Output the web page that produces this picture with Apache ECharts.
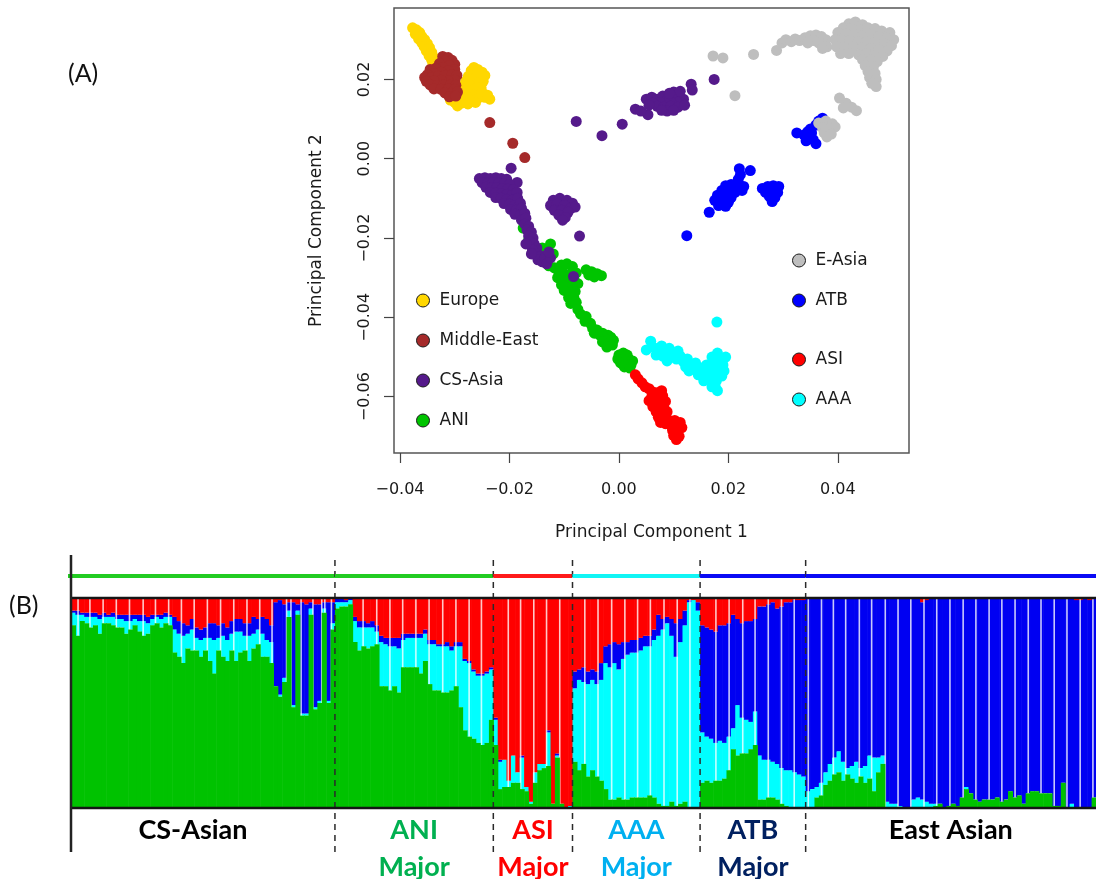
<!DOCTYPE html>
<html>
<head>
<meta charset="utf-8">
<script src="https://cdn.jsdelivr.net/npm/echarts@6/dist/echarts.min.js"></script>
<style>
html, body { margin: 0; padding: 0; background: #fff; }
#main { width: 1096px; height: 879px; }
</style>
</head>
<body>
<div id="main"></div>
<script>
// ---------- (A) principal components, one [PC1, PC2] pair per individual ----------
const europe = [
  [-0.0377,0.0330],[-0.0370,0.0325],[-0.0364,0.0318],[-0.0372,0.0314],[-0.0360,0.0308],[-0.0366,0.0302],
  [-0.0355,0.0300],[-0.0360,0.0292],[-0.0350,0.0290],[-0.0356,0.0283],[-0.0346,0.0280],[-0.0352,0.0272],
  [-0.0342,0.0268],[-0.0347,0.0260],[-0.0338,0.0255],[-0.0342,0.0248],[-0.0335,0.0240],[-0.0340,0.0236],
  [-0.0330,0.0230],[-0.0336,0.0222],[-0.0328,0.0218],
  [-0.0265,0.0230],[-0.0258,0.0225],[-0.0270,0.0222],[-0.0250,0.0218],[-0.0262,0.0212],[-0.0275,0.0208],
  [-0.0245,0.0210],[-0.0255,0.0202],[-0.0268,0.0198],[-0.0280,0.0195],[-0.0248,0.0195],[-0.0260,0.0188],
  [-0.0272,0.0185],[-0.0285,0.0182],[-0.0252,0.0180],[-0.0265,0.0175],[-0.0278,0.0172],[-0.0292,0.0170],
  [-0.0300,0.0165],[-0.0288,0.0160],[-0.0275,0.0158],[-0.0262,0.0162],[-0.0250,0.0168],[-0.0305,0.0155],
  [-0.0295,0.0150],[-0.0282,0.0148],[-0.0270,0.0150],[-0.0258,0.0152],[-0.0245,0.0155],[-0.0300,0.0142],
  [-0.0288,0.0140],[-0.0276,0.0138],[-0.0262,0.0142],[-0.0236,0.0150],[-0.0240,0.0160],[-0.0308,0.0148],
  [-0.0295,0.0133]
];
const middleEast = [
  [-0.0322,0.0258],[-0.0312,0.0255],[-0.0305,0.0248],[-0.0318,0.0246],[-0.0328,0.0240],[-0.0300,0.0238],
  [-0.0310,0.0235],[-0.0322,0.0230],[-0.0335,0.0228],[-0.0345,0.0225],[-0.0300,0.0225],[-0.0312,0.0222],
  [-0.0325,0.0218],[-0.0338,0.0215],[-0.0350,0.0212],[-0.0355,0.0205],[-0.0342,0.0205],[-0.0330,0.0208],
  [-0.0318,0.0210],[-0.0305,0.0212],[-0.0296,0.0210],[-0.0300,0.0198],[-0.0312,0.0196],[-0.0325,0.0198],
  [-0.0338,0.0196],[-0.0352,0.0195],[-0.0345,0.0186],[-0.0332,0.0185],[-0.0320,0.0186],[-0.0308,0.0186],
  [-0.0298,0.0185],[-0.0338,0.0176],[-0.0325,0.0175],[-0.0312,0.0176],[-0.0300,0.0175],[-0.0318,0.0166],
  [-0.0305,0.0165],[-0.0295,0.0168],[-0.0310,0.0156],[-0.0298,0.0158],
  [-0.0236,0.0091],[-0.0194,0.0039],[-0.0172,0.0003]
];
const csAsia = [
  [-0.0078,0.0094],[-0.0031,0.0058],[0.0006,0.0087],[0.0030,0.0125],[0.0053,0.0111],[0.0040,0.0120],
  [0.0050,0.0150],[0.0060,0.0155],[0.0070,0.0150],[0.0080,0.0158],[0.0090,0.0152],[0.0100,0.0160],
  [0.0110,0.0158],[0.0118,0.0150],[0.0115,0.0140],[0.0105,0.0145],[0.0095,0.0142],[0.0085,0.0140],
  [0.0075,0.0142],[0.0062,0.0140],[0.0070,0.0132],[0.0082,0.0130],[0.0095,0.0132],[0.0108,0.0130],
  [0.0120,0.0135],[0.0088,0.0120],[0.0078,0.0122],[0.0100,0.0168],[0.0112,0.0170],[0.0092,0.0165],
  [0.0055,0.0135],[0.0100,0.0122],[0.0132,0.0188],[0.0134,0.0173],[0.0174,0.0200],
  [-0.0197,-0.0024],[-0.0186,-0.0060],
  [-0.0255,-0.0050],[-0.0245,-0.0048],[-0.0235,-0.0050],[-0.0225,-0.0048],[-0.0215,-0.0050],[-0.0205,-0.0052],
  [-0.0250,-0.0060],[-0.0240,-0.0062],[-0.0230,-0.0060],[-0.0220,-0.0062],[-0.0210,-0.0063],[-0.0200,-0.0065],
  [-0.0243,-0.0072],[-0.0233,-0.0074],[-0.0223,-0.0073],[-0.0213,-0.0075],[-0.0203,-0.0077],[-0.0193,-0.0078],
  [-0.0235,-0.0085],[-0.0225,-0.0087],[-0.0215,-0.0088],[-0.0205,-0.0090],[-0.0195,-0.0092],[-0.0186,-0.0085],
  [-0.0225,-0.0098],[-0.0215,-0.0100],[-0.0205,-0.0103],[-0.0195,-0.0105],[-0.0185,-0.0100],[-0.0210,-0.0113],
  [-0.0200,-0.0115],[-0.0190,-0.0118],[-0.0180,-0.0112],[-0.0198,-0.0128],[-0.0188,-0.0130],[-0.0178,-0.0125],
  [-0.0190,-0.0140],[-0.0180,-0.0142],[-0.0172,-0.0138],[-0.0178,-0.0155],[-0.0170,-0.0150],[-0.0172,-0.0165],
  [-0.0165,-0.0170],[-0.0168,-0.0180],[-0.0160,-0.0185],[-0.0165,-0.0195],[-0.0157,-0.0200],[-0.0162,-0.0210],
  [-0.0155,-0.0215],[-0.0150,-0.0225],[-0.0158,-0.0230],[-0.0150,-0.0240],[-0.0142,-0.0245],[-0.0148,-0.0255],
  [-0.0140,-0.0260],[-0.0135,-0.0250],[-0.0132,-0.0265],[-0.0170,-0.0215],[-0.0160,-0.0240],[-0.0125,-0.0250],
  [-0.0128,-0.0235],
  [-0.0120,-0.0105],[-0.0108,-0.0100],[-0.0095,-0.0105],[-0.0085,-0.0112],[-0.0125,-0.0118],[-0.0113,-0.0115],
  [-0.0100,-0.0118],[-0.0088,-0.0125],[-0.0080,-0.0122],[-0.0118,-0.0130],[-0.0105,-0.0130],[-0.0093,-0.0135],
  [-0.0110,-0.0142],[-0.0098,-0.0148],[-0.0103,-0.0155],[-0.0072,-0.0195],[-0.0083,-0.0297]
];
const ani = [
  [-0.0175,-0.0175],[-0.0165,-0.0205],[-0.0140,-0.0225],[-0.0125,-0.0215],[-0.0120,-0.0240],
  [-0.0128,-0.0270],[-0.0118,-0.0275],[-0.0105,-0.0268],[-0.0095,-0.0265],[-0.0085,-0.0272],[-0.0110,-0.0285],
  [-0.0100,-0.0290],[-0.0090,-0.0292],[-0.0078,-0.0288],[-0.0112,-0.0300],[-0.0102,-0.0305],[-0.0092,-0.0308],
  [-0.0082,-0.0305],[-0.0105,-0.0318],[-0.0095,-0.0322],[-0.0085,-0.0320],[-0.0075,-0.0315],[-0.0100,-0.0332],
  [-0.0090,-0.0338],[-0.0080,-0.0335],[-0.0092,-0.0350],[-0.0082,-0.0352],[-0.0088,-0.0365],[-0.0078,-0.0362],
  [-0.0060,-0.0280],[-0.0050,-0.0285],[-0.0040,-0.0290],[-0.0032,-0.0295],[-0.0045,-0.0298],[-0.0055,-0.0293],
  [-0.0075,-0.0380],[-0.0070,-0.0392],[-0.0060,-0.0398],[-0.0062,-0.0410],[-0.0052,-0.0415],[-0.0048,-0.0428],
  [-0.0040,-0.0432],[-0.0045,-0.0440],[-0.0035,-0.0445],[-0.0030,-0.0440],[-0.0020,-0.0445],[-0.0015,-0.0450],
  [-0.0025,-0.0455],[-0.0030,-0.0462],[-0.0018,-0.0465],[-0.0010,-0.0458],[-0.0022,-0.0475],[-0.0012,-0.0470],
  [0.0000,-0.0495],[0.0008,-0.0490],[0.0015,-0.0495],[-0.0002,-0.0505],[0.0008,-0.0505],[0.0018,-0.0505],
  [0.0025,-0.0510],[0.0003,-0.0515],[0.0013,-0.0518],[0.0022,-0.0520],[0.0010,-0.0525],[0.0020,-0.0528]
];
const asi = [
  [0.0030,-0.0545],[0.0035,-0.0555],[0.0042,-0.0565],[0.0048,-0.0575],[0.0055,-0.0580],[0.0062,-0.0588],
  [0.0070,-0.0590],[0.0078,-0.0585],[0.0080,-0.0598],[0.0072,-0.0600],[0.0060,-0.0600],[0.0055,-0.0610],
  [0.0065,-0.0612],[0.0075,-0.0610],[0.0085,-0.0612],[0.0062,-0.0625],[0.0072,-0.0625],[0.0082,-0.0625],
  [0.0068,-0.0638],[0.0078,-0.0640],[0.0088,-0.0638],[0.0072,-0.0652],[0.0082,-0.0655],[0.0076,-0.0665],
  [0.0085,-0.0668],[0.0092,-0.0660],[0.0102,-0.0660],[0.0112,-0.0665],[0.0095,-0.0672],[0.0105,-0.0675],
  [0.0115,-0.0678],[0.0098,-0.0685],[0.0108,-0.0688],[0.0100,-0.0698],[0.0110,-0.0700],[0.0105,-0.0708]
];
const aaa = [
  [0.0050,-0.0482],[0.0058,-0.0460],[0.0062,-0.0475],[0.0070,-0.0480],[0.0078,-0.0472],[0.0085,-0.0485],
  [0.0092,-0.0478],[0.0100,-0.0490],[0.0108,-0.0485],[0.0068,-0.0495],[0.0080,-0.0498],[0.0095,-0.0500],
  [0.0105,-0.0505],[0.0112,-0.0498],[0.0118,-0.0512],[0.0125,-0.0505],[0.0088,-0.0510],[0.0130,-0.0520],
  [0.0128,-0.0535],[0.0138,-0.0530],[0.0140,-0.0515],[0.0145,-0.0545],[0.0150,-0.0528],[0.0155,-0.0540],
  [0.0160,-0.0520],[0.0162,-0.0555],[0.0165,-0.0535],[0.0170,-0.0500],[0.0172,-0.0515],[0.0175,-0.0545],
  [0.0178,-0.0560],[0.0180,-0.0490],[0.0182,-0.0528],[0.0185,-0.0505],[0.0188,-0.0548],[0.0190,-0.0520],
  [0.0192,-0.0535],[0.0176,-0.0575],[0.0180,-0.0585],[0.0170,-0.0575],[0.0195,-0.0500],[0.0155,-0.0560],
  [0.0122,-0.0525],[0.0179,-0.0412]
];
const atb = [
  [0.0325,0.0065],[0.0338,0.0060],[0.0348,0.0055],[0.0342,0.0045],[0.0355,0.0048],[0.0360,0.0038],
  [0.0352,0.0065],[0.0365,0.0095],[0.0372,0.0102],[0.0360,0.0085],[0.0350,0.0075],[0.0345,0.0068],
  [0.0220,-0.0025],[0.0222,-0.0040],[0.0218,-0.0052],[0.0240,-0.0030],[0.0195,-0.0068],[0.0205,-0.0065],
  [0.0215,-0.0070],[0.0228,-0.0070],[0.0188,-0.0080],[0.0200,-0.0082],[0.0212,-0.0085],[0.0225,-0.0080],
  [0.0180,-0.0092],[0.0192,-0.0095],[0.0205,-0.0098],[0.0175,-0.0105],[0.0188,-0.0108],[0.0200,-0.0110],
  [0.0195,-0.0120],[0.0182,-0.0118],[0.0165,-0.0135],
  [0.0262,-0.0075],[0.0272,-0.0070],[0.0282,-0.0068],[0.0292,-0.0070],[0.0268,-0.0085],[0.0280,-0.0082],
  [0.0290,-0.0085],[0.0275,-0.0095],[0.0285,-0.0098],[0.0280,-0.0108],[0.0124,-0.0194]
];
const eAsia = [
  [0.0172,0.0259],[0.0190,0.0254],[0.0246,0.0263],[0.0288,0.0273],
  [0.0298,0.0292],[0.0305,0.0300],[0.0315,0.0295],[0.0322,0.0302],[0.0330,0.0298],[0.0340,0.0305],
  [0.0350,0.0310],[0.0360,0.0312],[0.0370,0.0308],[0.0378,0.0300],[0.0375,0.0290],[0.0365,0.0292],
  [0.0355,0.0298],[0.0345,0.0292],[0.0380,0.0282],[0.0372,0.0278],
  [0.0420,0.0340],[0.0432,0.0345],[0.0445,0.0338],[0.0410,0.0330],[0.0425,0.0328],[0.0440,0.0325],
  [0.0455,0.0330],[0.0468,0.0328],[0.0480,0.0322],[0.0495,0.0318],[0.0400,0.0318],[0.0415,0.0315],
  [0.0430,0.0312],[0.0445,0.0310],[0.0460,0.0312],[0.0475,0.0308],[0.0490,0.0305],[0.0502,0.0300],
  [0.0395,0.0300],[0.0408,0.0298],[0.0422,0.0298],[0.0438,0.0295],[0.0452,0.0295],[0.0468,0.0292],
  [0.0485,0.0290],[0.0498,0.0285],[0.0398,0.0282],[0.0412,0.0280],[0.0428,0.0282],[0.0445,0.0280],
  [0.0460,0.0278],[0.0475,0.0275],[0.0490,0.0272],[0.0405,0.0265],[0.0420,0.0265],[0.0438,0.0262],
  [0.0452,0.0265],[0.0468,0.0260],[0.0482,0.0258],[0.0445,0.0250],[0.0460,0.0248],[0.0472,0.0245],
  [0.0450,0.0235],[0.0465,0.0232],[0.0455,0.0220],[0.0468,0.0215],[0.0458,0.0205],[0.0470,0.0200],
  [0.0462,0.0190],[0.0470,0.0182],
  [0.0212,0.0159],[0.0403,0.0153],[0.0415,0.0140],[0.0425,0.0130],[0.0434,0.0121],[0.0410,0.0128],
  [0.0365,0.0090],[0.0378,0.0095],[0.0390,0.0088],[0.0372,0.0078],[0.0385,0.0075],[0.0395,0.0080],
  [0.0375,0.0065],[0.0388,0.0062],[0.0380,0.0055]
];
const pcXTicks = [-0.04, -0.02, 0, 0.02, 0.04];
const pcYTicks = [-0.06, -0.04, -0.02, 0, 0.02];

// ---------- (B) ancestry proportions (%) per column, K = 4; red is the remainder ----------
const greenQ = [
  87,82,89,88,86,87,83,88,88,87, 86,86,83,85,87,84,82,83,87,88, 86,88,87,74,72,69,76,75,75,72,
  75,70,64,75,72,70,75,70,74,75, 70,76,78,72,72,69,58,53,60,91, 48,92,44,44,92,47,50,93,50,85,
  95,96,96,97,79,75,77,76,77,78, 58,58,56,58,55,67,67,67,67,64, 70,59,56,56,55,55,56,58,48,37,
  34,33,31,30,31,42,
  30,9,10,10,12,12,9,8,2,12, 18,19,20,2,24,2,0,0,
  22,18,21,15,18,15,13,9,4,4, 5,4,4,5,5,5,5,6,5,2, 1,1,3,1,2,3,0,0,0,
  12,13,12,13,13,14,18,28,25,26, 26,28,30,4,4,5,5,4,2,1, 0,0,0,0,
  0,0,5,6,11,13,16,17,13,16, 14,12,15,12,14,8,17,21,0,0, 0,0,0,0,0,0,0,0,0,1,
  2,0,1,2,1,5,9,7,4,3, 4,4,4,5,3,4,8,5,6,2, 7,8,8,7,7,7,1,1,12,0, 0,0,0,0,0,5
];
const cyanQ = [
  6,10,3,3,5,4,7,3,3,4, 4,4,6,4,3,5,7,5,3,3, 4,3,4,11,11,13,7,10,6,8,
  6,11,16,6,10,10,8,14,10,7, 12,7,7,11,8,10,0,1,2,3, 1,2,1,1,3,1,1,2,1,3,
  3,2,2,2,10,11,9,10,9,6, 21,20,21,19,21,13,14,14,14,17, 13,19,22,21,22,22,19,19,29,33,
  35,32,32,33,33,24,
  12,13,13,3,13,5,15,2,1,5, 3,2,16,0,1,0,0,1,
  35,43,39,44,43,44,48,60,63,65, 61,67,69,69,69,70,72,71,75,80, 84,87,79,71,77,84,98,99,94,
  24,21,21,18,19,17,16,10,24,17, 16,13,16,21,19,18,17,17,17,17, 18,17,16,15,
  8,9,5,6,6,8,8,10,9,3, 6,10,4,8,11,16,7,4,3,2, 2,1,0,0,4,5,4,3,2,1,
  0,0,0,0,0,0,1,0,0,0, 0,0,0,0,0,0,0,0,0,0, 0,0,0,0,0,0,0,0,0,0, 2,0,0,0,0,0
];
const blueQ = [
  1,2,1,2,2,2,2,2,1,2, 2,2,3,3,2,3,3,3,2,1, 2,2,1,6,6,6,4,5,5,5,
  5,7,8,6,6,6,6,6,6,6, 6,8,5,8,10,8,40,45,35,4, 49,3,53,52,3,49,46,3,47,10,
  2,2,1,1,2,3,3,2,3,3, 3,3,4,4,5,3,2,2,2,2, 2,2,2,1,1,2,2,2,2,1,
  1,1,1,1,1,1,
  1,1,0,0,0,0,1,0,0,0, 0,0,1,0,1,0,0,0,
  8,5,7,6,5,6,8,8,11,10, 12,8,6,6,6,6,5,5,5,10, 5,3,8,16,11,7,1,0,4,
  51,52,52,53,55,56,54,54,41,45, 47,48,44,71,73,74,76,74,77,80, 80,82,83,84,
  92,91,90,88,83,79,76,73,78,81, 80,78,81,80,75,76,76,75,97,98, 98,99,100,100,96,95,94,96,98,98,
  98,100,99,98,99,95,90,93,96,97, 96,96,96,95,97,96,92,95,94,98, 93,92,92,93,93,93,99,99,88,100,
  98,99,99,100,99,95
];
// population breaks (in column units) drawn as thin white rules
const popBreaks = [
  1.6,4.3,7.3,10.3,13.3,16.4,19.2,22.2,25.1,28,31,34,37,40,42.9,45.7,49,50,52.3,55,57,57.7,59.2,
  66.4,69.5,72.5,75.4,78.4,81.4,84.5,87.5,90.5,93.3,
  99.4,102.2,105.2,108.1,111.1,
  116.8,119.8,122.9,125.9,128.8,131.7,134.8,137.8,140.7,
  146.6,149.6,152.7,155.5,158.5,161.5,164.4,
  167.6,170.6,173.3,176.1,179.2,182,185.1,188,190.9,193.9,196.8,199.8,202.8,205.7,208.7,211.6,214.6,
  217.6,220.5,223.5,226.4,229.4,232.3
];
const groupNames = ['CS-Asian', 'ANI\nMajor', 'ASI\nMajor', 'AAA\nMajor', 'ATB\nMajor', 'East Asian'];
const groupEnds = [60, 96, 114, 143, 167, 233];

const COLS = greenQ.length;
const Q_COLORS = { green: '#00C200', cyan: '#00FFFF', blue: '#0000F2', red: '#FF0000' };
const bandColors = ['#22CC22', '#22CC22', '#FF1A1A', '#11F5F5', '#0A0AF5', '#0A0AF5'];
const labelColors = ['#000000', '#00B050', '#FF0000', '#00B0F0', '#002060', '#000000'];
const PC_FONT = '"DejaVu Sans", "Liberation Sans", Arial, sans-serif';

const chart = echarts.init(document.getElementById('main'), null, { renderer: 'canvas' });

const pcFormat = v => (v < 0 ? '\u2212' : '') + Math.abs(v).toFixed(2);

const pcSeries = [
  { name: 'Europe', data: europe, color: '#FFD700' },
  { name: 'Middle-East', data: middleEast, color: '#A52A2A' },
  { name: 'ANI', data: ani, color: '#00C400' },
  { name: 'CS-Asia', data: csAsia, color: '#551A8B' },
  { name: 'ASI', data: asi, color: '#FF0000' },
  { name: 'AAA', data: aaa, color: '#00FFFF' },
  { name: 'ATB', data: atb, color: '#0000FF' },
  { name: 'E-Asia', data: eAsia, color: '#BEBEBE' }
].map(s => ({
  type: 'scatter', name: s.name, data: s.data, xAxisIndex: 0, yAxisIndex: 0,
  symbol: 'circle', symbolSize: 11, silent: true,
  itemStyle: { color: s.color, opacity: 1 }
}));

const columnData = greenQ.map((g, i) => [i, g, cyanQ[i], blueQ[i]]);

function colRect(api, i, lo, hi, fill) {
  const a = api.coord([i, hi]);
  const b = api.coord([i + 1, lo]);
  return { type: 'rect', shape: { x: a[0], y: a[1], width: b[0] - a[0] + 0.6, height: b[1] - a[1] }, style: { fill } };
}

const legendBase = {
  orient: 'vertical', icon: 'circle', itemWidth: 13, itemHeight: 13, itemGap: 23, padding: 0,
  selectedMode: false,
  itemStyle: { borderColor: '#1a1a1a', borderWidth: 1 },
  textStyle: { fontSize: 17, fontFamily: PC_FONT, color: '#1a1a1a', padding: [0, 0, 0, 5] }
};

const option = {
  backgroundColor: '#ffffff',
  animation: false,
  textStyle: { fontFamily: PC_FONT },
  graphic: [
    { type: 'text', left: 68, top: 61, style: { text: '(A)', font: '25px Lato, "Open Sans", sans-serif', fill: '#111' } },
    { type: 'text', left: 9, top: 593, style: { text: '(B)', font: '25px Lato, "Open Sans", sans-serif', fill: '#111' } }
  ],
  legend: [
    Object.assign({}, legendBase, { data: ['Europe', 'Middle-East', 'CS-Asia', 'ANI'], left: 416, top: 292 }),
    Object.assign({}, legendBase, { data: ['E-Asia', 'ATB'], left: 792, top: 252 }),
    Object.assign({}, legendBase, { data: ['ASI', 'AAA'], left: 792, top: 351 })
  ],
  grid: [
    { left: 394, top: 8, width: 515, height: 445, show: true, borderColor: '#555', borderWidth: 1.5, backgroundColor: 'transparent' },
    { left: 71, top: 598, right: 0, height: 210, show: false }
  ],
  xAxis: [
    {
      gridIndex: 0, type: 'value', min: -0.0411, max: 0.0530,
      name: 'Principal Component 1', nameLocation: 'middle', nameGap: 71,
      nameTextStyle: { fontSize: 17, color: '#1a1a1a', fontFamily: PC_FONT },
      axisLine: { show: false, onZero: false }, splitLine: { show: false },
      axisTick: { show: true, customValues: pcXTicks, length: 10, lineStyle: { color: '#444', width: 1.2 } },
      axisLabel: { customValues: pcXTicks, formatter: pcFormat, margin: 29, fontSize: 16, color: '#1a1a1a', fontFamily: PC_FONT }
    },
    { gridIndex: 1, type: 'value', min: 0, max: COLS, show: false }
  ],
  yAxis: [
    {
      gridIndex: 0, type: 'value', min: -0.0742, max: 0.0380,
      name: 'Principal Component 2', nameLocation: 'middle', nameGap: 69, nameRotate: 90,
      nameTextStyle: { fontSize: 17, color: '#1a1a1a', fontFamily: PC_FONT },
      axisLine: { show: false, onZero: false }, splitLine: { show: false },
      axisTick: { show: true, customValues: pcYTicks, length: 10, lineStyle: { color: '#444', width: 1.2 } },
      axisLabel: { customValues: pcYTicks, formatter: pcFormat, rotate: 90, margin: 21, fontSize: 16, color: '#1a1a1a', fontFamily: PC_FONT }
    },
    { gridIndex: 1, type: 'value', min: 0, max: 100, show: false }
  ],
  series: pcSeries.concat([
    {
      // cyan, blue and red parts of every column
      type: 'custom', name: 'ancestryUpper', xAxisIndex: 1, yAxisIndex: 1, z: 3, silent: true,
      data: columnData,
      renderItem(params, api) {
        const i = api.value(0), g = api.value(1), c = api.value(2), b = api.value(3);
        return { type: 'group', children: [
          colRect(api, i, g, g + c, Q_COLORS.cyan),
          colRect(api, i, g + c, g + c + b, Q_COLORS.blue),
          colRect(api, i, g + c + b, 100, Q_COLORS.red)
        ] };
      }
    },
    {
      type: 'custom', name: 'popBreaks', xAxisIndex: 1, yAxisIndex: 1, z: 4, silent: true,
      data: popBreaks.map(v => [v]),
      renderItem(params, api) {
        const v = api.value(0);
        const top = api.coord([v, 100]), bot = api.coord([v, 0]);
        return { type: 'line', shape: { x1: top[0], y1: top[1], x2: bot[0], y2: bot[1] },
          style: { stroke: 'rgba(255,255,255,0.78)', lineWidth: 1.6 } };
      }
    },
    {
      // green part drawn last so it sits over the population rules
      type: 'custom', name: 'ancestryGreen', xAxisIndex: 1, yAxisIndex: 1, z: 5, silent: true,
      data: columnData,
      renderItem(params, api) {
        const i = api.value(0), g = api.value(1);
        return colRect(api, i, 0, g, Q_COLORS.green);
      }
    },
    {
      // group bands, dashed dividers and group labels
      type: 'custom', name: 'groups', xAxisIndex: 1, yAxisIndex: 1, z: 6, silent: true, clip: false,
      data: groupEnds.map((end, k) => [k === 0 ? 0 : groupEnds[k - 1], end, k]),
      renderItem(params, api) {
        const s = api.value(0), e = api.value(1), k = api.value(2);
        const topY = api.coord([s, 100])[1], botY = api.coord([s, 0])[1];
        const xs = api.coord([s, 0])[0] - (k === 0 ? 3 : 0), xe = api.coord([e, 0])[0];
        const children = [
          { type: 'line', shape: { x1: xs, y1: topY - 22, x2: xe, y2: topY - 22 },
            style: { stroke: bandColors[k], lineWidth: 4 } },
          { type: 'text', x: (api.coord([s, 0])[0] + xe) / 2 - (k === 0 ? 10 : 0), y: botY + 4,
            style: { text: groupNames[k], fill: labelColors[k], align: 'center', verticalAlign: 'top',
              fontSize: 27, fontWeight: 'bold', fontFamily: 'Lato, "Open Sans", sans-serif', lineHeight: 37 } }
        ];
        if (k < groupEnds.length - 1) {
          children.push({ type: 'line', shape: { x1: xe, y1: topY - 38, x2: xe, y2: botY + 44 },
            style: { stroke: '#2a2a2a', lineWidth: 1.5, lineDash: [6, 5] } });
        }
        return { type: 'group', children };
      }
    },
    {
      // frame: top and bottom rules plus the left axis line
      type: 'custom', name: 'frame', xAxisIndex: 1, yAxisIndex: 1, z: 7, silent: true, clip: false,
      data: [[0]],
      renderItem(params, api) {
        const tl = api.coord([0, 100]), bl = api.coord([0, 0]), tr = api.coord([COLS, 100]), br = api.coord([COLS, 0]);
        return { type: 'group', children: [
          { type: 'line', shape: { x1: tl[0], y1: tl[1], x2: tr[0] + 2, y2: tr[1] }, style: { stroke: '#151515', lineWidth: 2.5 } },
          { type: 'line', shape: { x1: bl[0], y1: bl[1], x2: br[0] + 2, y2: br[1] }, style: { stroke: '#151515', lineWidth: 2.5 } },
          { type: 'line', shape: { x1: tl[0], y1: tl[1] - 43, x2: bl[0], y2: bl[1] + 44 }, style: { stroke: '#222', lineWidth: 2.5 } }
        ] };
      }
    }
  ])
};

chart.setOption(option);
</script>
</body>
</html>
